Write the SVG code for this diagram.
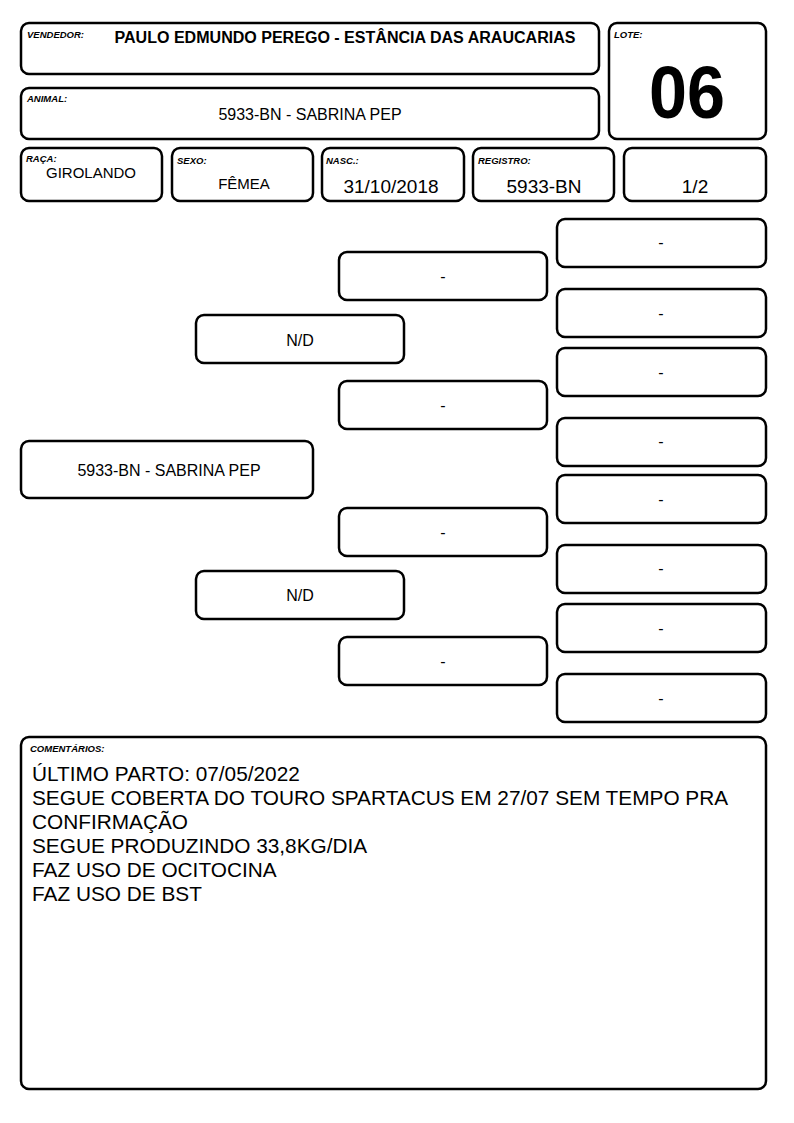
<svg xmlns="http://www.w3.org/2000/svg" width="794" height="1123" viewBox="0 0 794 1123">
<style>
.b{fill:#fff;stroke:#000;stroke-width:2.5}
.t{font-family:"Liberation Sans",Arial,sans-serif;fill:#000}
.lb{font-size:9.5px;font-weight:bold;font-style:italic}
.v{font-size:15px;text-anchor:middle}
.p{font-size:16px;text-anchor:middle}
.v2{font-size:19px;text-anchor:middle}
.c{font-size:20.8px}
</style>
<rect width="794" height="1123" fill="#fff"/>
<g id="vendedor"><rect class="b" x="21" y="23" width="578" height="51" rx="8"/>
<text class="t lb" x="27" y="38">VENDEDOR:</text>
<text class="t" x="345" y="43" font-size="16" font-weight="bold" text-anchor="middle" textLength="461" lengthAdjust="spacingAndGlyphs">PAULO EDMUNDO PEREGO - ESTÂNCIA  DAS ARAUCARIAS</text></g>
<g id="lote"><rect class="b" x="609" y="23" width="157" height="116" rx="8"/>
<text class="t lb" x="614" y="38">LOTE:</text>
<text class="t" x="687" y="118" font-size="74" font-weight="bold" text-anchor="middle" textLength="76" lengthAdjust="spacingAndGlyphs">06</text></g>
<g id="animal"><rect class="b" x="21" y="88" width="578" height="51" rx="8"/>
<text class="t lb" x="27" y="102">ANIMAL:</text>
<text class="t p" x="310" y="120">5933-BN - SABRINA PEP</text></g>
<g id="raca"><rect class="b" x="21" y="148" width="141" height="53" rx="8"/>
<text class="t lb" x="26" y="162">RAÇA:</text>
<text class="t v" x="91" y="178">GIROLANDO</text></g>
<g id="sexo"><rect class="b" x="172" y="148" width="141" height="53" rx="8"/>
<text class="t lb" x="177" y="164">SEXO:</text>
<text class="t v" x="244" y="189">FÊMEA</text></g>
<g id="nasc"><rect class="b" x="322" y="148" width="142" height="53" rx="8"/>
<text class="t lb" x="326" y="164">NASC.:</text>
<text class="t v2" x="391" y="193">31/10/2018</text></g>
<g id="registro"><rect class="b" x="473" y="148" width="141" height="53" rx="8"/>
<text class="t lb" x="478" y="164">REGISTRO:</text>
<text class="t v2" x="544" y="193">5933-BN</text></g>
<g id="grau"><rect class="b" x="624" y="148" width="142" height="53" rx="8"/>
<text class="t v2" x="695" y="193">1/2</text></g>
<g id="p1"><rect class="b" x="21" y="441" width="292" height="57" rx="8"/><text class="t p" x="169" y="476">5933-BN - SABRINA PEP</text></g>
<g id="p2a"><rect class="b" x="196" y="315" width="208" height="48" rx="8"/><text class="t p" x="300" y="346">N/D</text></g>
<g id="p2b"><rect class="b" x="196" y="571" width="208" height="48" rx="8"/><text class="t p" x="300" y="601">N/D</text></g>
<g id="p3a"><rect class="b" x="339" y="252" width="208" height="48" rx="8"/><text class="t p" x="443" y="282">-</text></g>
<g id="p3b"><rect class="b" x="339" y="381" width="208" height="48" rx="8"/><text class="t p" x="443" y="411">-</text></g>
<g id="p3c"><rect class="b" x="339" y="508" width="208" height="48" rx="8"/><text class="t p" x="443" y="538">-</text></g>
<g id="p3d"><rect class="b" x="339" y="637" width="208" height="48" rx="8"/><text class="t p" x="443" y="667">-</text></g>
<g id="p4a"><rect class="b" x="557" y="219" width="209" height="48" rx="8"/><text class="t p" x="661" y="248">-</text></g>
<g id="p4b"><rect class="b" x="557" y="289" width="209" height="48" rx="8"/><text class="t p" x="661" y="319">-</text></g>
<g id="p4c"><rect class="b" x="557" y="348" width="209" height="48" rx="8"/><text class="t p" x="661" y="378">-</text></g>
<g id="p4d"><rect class="b" x="557" y="418" width="209" height="48" rx="8"/><text class="t p" x="661" y="447">-</text></g>
<g id="p4e"><rect class="b" x="557" y="475" width="209" height="48" rx="8"/><text class="t p" x="661" y="505">-</text></g>
<g id="p4f"><rect class="b" x="557" y="545" width="209" height="48" rx="8"/><text class="t p" x="661" y="574">-</text></g>
<g id="p4g"><rect class="b" x="557" y="604" width="209" height="48" rx="8"/><text class="t p" x="661" y="634">-</text></g>
<g id="p4h"><rect class="b" x="557" y="674" width="209" height="48" rx="8"/><text class="t p" x="661" y="704">-</text></g>
<g id="comentarios"><rect class="b" x="21" y="737" width="745" height="352" rx="8"/>
<text class="t lb" x="30" y="752">COMENTÁRIOS:</text>
<text class="t c" x="32" y="781">ÚLTIMO PARTO: 07/05/2022</text>
<text class="t c" x="32" y="805">SEGUE COBERTA DO TOURO SPARTACUS EM 27/07 SEM TEMPO PRA</text>
<text class="t c" x="32" y="829">CONFIRMAÇÃO</text>
<text class="t c" x="32" y="853">SEGUE PRODUZINDO 33,8KG/DIA</text>
<text class="t c" x="32" y="877">FAZ USO DE OCITOCINA</text>
<text class="t c" x="32" y="901">FAZ USO DE BST</text></g>
<g id="connectors"></g>
</svg>
